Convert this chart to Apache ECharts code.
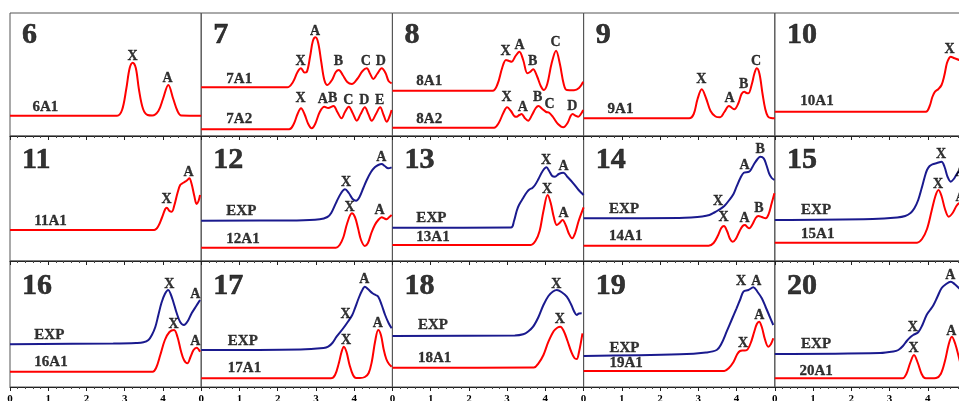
<!DOCTYPE html>
<html><head><meta charset="utf-8">
<script src="https://cdn.jsdelivr.net/npm/echarts@6/dist/echarts.min.js"></script>
<style>html,body{margin:0;padding:0;background:#fff}#c{width:959px;height:401px}</style>
</head><body><div id="c"></div>
<script>
// ---------- panel numbers ----------
const panelNums = ['6','7','8','9','10','11','12','13','14','15','16','17','18','19','20'];
const xTicks = [0,1,2,3,4];

// ---------- curve data: [x, y] ----------
const p6_A1 = [[0,20.3],[2.8,20.3],[2.93,26],[3.04,47],[3.13,68],[3.21,73.3],[3.29,68],[3.37,47],[3.48,27],[3.6,21],[3.72,20.5],[3.88,25],[4.0,37],[4.14,51],[4.27,37],[4.38,25],[4.48,20.5],[5,20.3]];
const p7_A1 = [[0,48.7],[2.25,48.7],[2.4,54],[2.52,64],[2.61,67.7],[2.7,63.5],[2.76,64],[2.85,80],[2.92,95],[2.99,98.7],[3.06,93],[3.14,74],[3.22,56],[3.3,51],[3.42,56],[3.52,64],[3.6,66],[3.7,61],[3.82,54],[3.94,52],[4.08,57],[4.22,65],[4.33,67.7],[4.42,62],[4.5,57],[4.6,62],[4.72,67.7],[4.82,63],[4.9,55],[4.98,52.7]];
const p7_A2 = [[0,6.7],[2.3,6.7],[2.42,12],[2.52,22],[2.61,27.7],[2.7,22],[2.8,12],[2.89,7.7],[2.98,12],[3.1,24],[3.22,29.3],[3.32,28],[3.46,30],[3.56,24],[3.67,17.7],[3.76,24],[3.86,29.3],[3.96,23],[4.07,15.3],[4.17,22],[4.28,28.7],[4.37,22],[4.46,15.3],[4.57,22],[4.68,28.7],[4.77,21],[4.85,14.3],[4.92,19],[4.98,26]];
const p8_A1 = [[0,45.3],[2.62,45.3],[2.75,52],[2.87,68],[2.97,76],[3.05,75],[3.12,74.3],[3.22,80],[3.32,84.3],[3.42,76],[3.53,62.7],[3.6,64],[3.68,66.7],[3.78,60],[3.88,50],[3.96,46],[4.05,52],[4.16,72],[4.28,85.3],[4.38,72],[4.48,52],[4.56,46],[4.75,45.8],[4.88,48],[4.99,54.3]];
const p8_A2 = [[0,8.3],[2.66,8.3],[2.78,13],[2.9,23],[3.0,28.7],[3.1,25],[3.2,19.5],[3.25,19.3],[3.32,21],[3.38,22],[3.46,18],[3.55,15.3],[3.65,21],[3.75,28],[3.82,30],[3.92,27],[4.02,24],[4.10,23.3],[4.2,19],[4.33,12],[4.47,8.7],[4.58,13],[4.66,20],[4.71,22],[4.78,20.5],[4.86,19.3],[4.93,22],[4.99,26]];
const p9_A1 = [[0,17.7],[2.76,17.7],[2.88,22],[2.98,37],[3.09,46.7],[3.2,38],[3.32,25],[3.45,19.5],[3.57,18.7],[3.68,24],[3.8,30],[3.88,28],[3.94,26.7],[4.05,33],[4.13,42],[4.2,44.3],[4.26,43],[4.31,42.7],[4.4,52],[4.47,63],[4.53,67.7],[4.6,62],[4.68,42],[4.75,27],[4.82,19.5],[4.9,17.9],[5,17.7]];
const p10_A1 = [[0,24.3],[3.95,24.3],[4.05,30],[4.12,39],[4.19,44.3],[4.28,47],[4.36,51],[4.43,60],[4.5,72.7],[4.56,78],[4.6,79.3],[4.68,78],[4.82,76],[5,72]];
const p11_A1 = [[0,31],[3.77,31],[3.88,35],[3.97,43],[4.06,52],[4.1,53.3],[4.17,50],[4.23,49.3],[4.3,56],[4.38,68],[4.45,76],[4.52,78],[4.58,79.3],[4.64,81],[4.69,82.7],[4.75,77],[4.82,65],[4.88,57],[4.93,60],[4.97,66]];
const p12_EXP = [[0,40.3],[2.5,40.6],[3.1,41.7],[3.3,44],[3.4,48],[3.54,59.3],[3.66,68],[3.76,71.7],[3.86,68],[3.96,62],[4.05,60.3],[4.14,64],[4.24,73],[4.33,81],[4.44,89],[4.54,93.7],[4.63,96],[4.72,97],[4.8,95],[4.89,92.7],[4.98,93.7]];
const p12_A1 = [[0,13.3],[3.52,13.3],[3.62,16],[3.72,24],[3.82,38],[3.94,47.7],[4.02,44],[4.1,33],[4.18,21],[4.28,15],[4.36,18],[4.45,28],[4.54,36],[4.63,41],[4.72,43.7],[4.79,42.5],[4.85,41.7],[4.92,44],[4.98,46]];
const p13_EXP = [[0,33.3],[3.1,33.5],[3.18,40],[3.25,50],[3.31,56],[3.42,63],[3.52,69],[3.59,71.7],[3.66,73],[3.73,76],[3.82,82],[3.93,90],[4.03,93.7],[4.1,90],[4.18,85],[4.25,84.3],[4.35,87],[4.47,88.3],[4.58,84],[4.73,77.7],[4.87,71],[5.0,66]];
const p13_A1 = [[0,16],[3.62,16],[3.74,20],[3.85,30],[3.95,50],[4.06,66],[4.14,58],[4.22,44],[4.3,36],[4.37,38],[4.45,41],[4.53,36],[4.62,27],[4.7,22.7],[4.78,28],[4.87,40],[5.0,53.7]];
const p14_EXP = [[0,42.7],[2.5,43],[2.81,43.5],[3.1,44.5],[3.29,46],[3.42,48.5],[3.53,51],[3.68,55],[3.81,61],[3.92,67],[4.0,74.3],[4.1,83],[4.19,88.3],[4.33,89.3],[4.4,93],[4.47,97.7],[4.55,102],[4.62,104.3],[4.71,102.7],[4.78,96],[4.85,87.7],[4.92,83],[4.99,81]];
const p14_A1 = [[0,15.3],[3.27,15.3],[3.4,18],[3.52,26],[3.6,33],[3.67,35],[3.75,30],[3.83,22],[3.9,19.3],[3.98,22],[4.08,30],[4.16,35],[4.22,36],[4.28,34],[4.33,32.7],[4.42,37],[4.5,43],[4.57,45],[4.66,44],[4.76,42.7],[4.84,47],[4.92,58],[4.99,67.7]];
const p15_EXP = [[0,41],[2.56,42],[3.2,43.5],[3.41,45],[3.55,48],[3.65,52.7],[3.75,61],[3.84,72.7],[3.92,84],[3.98,91],[4.05,95],[4.12,96.7],[4.24,98],[4.36,99.3],[4.44,94],[4.52,84],[4.6,79.3],[4.68,82],[4.76,87],[4.82,89.3],[4.9,88],[5,86]];
const p15_A1 = [[0,18.3],[3.72,18.3],[3.85,22],[3.98,32],[4.1,50],[4.2,65],[4.28,71],[4.36,65],[4.45,52],[4.55,44.3],[4.65,48],[4.75,55],[4.82,57.7],[4.9,58],[5,57]];
const p16_EXP = [[0,42.7],[2.7,43.5],[3.3,44],[3.49,44.7],[3.62,47],[3.71,52],[3.8,60],[3.88,72],[3.96,84],[4.05,93],[4.14,97],[4.2,93],[4.27,85.3],[4.35,75],[4.45,65],[4.55,62],[4.65,66],[4.75,73.7],[4.87,81],[4.97,87]];
const p16_A1 = [[0,15.3],[3.73,15.3],[3.82,19],[3.93,32],[4.05,47],[4.17,55],[4.29,57],[4.38,50],[4.47,36],[4.55,27],[4.64,23.7],[4.72,30],[4.8,37],[4.88,39.3],[4.97,35.3]];
const p17_EXP = [[0,37],[2.6,37.5],[3.2,39],[3.32,40.3],[3.43,44],[3.54,50.3],[3.7,58],[3.85,66],[3.95,72],[4.02,78.7],[4.12,89],[4.2,96],[4.28,100.3],[4.36,98],[4.48,93.7],[4.56,92],[4.63,90.3],[4.72,82],[4.81,72],[4.9,64],[4.98,58.7]];
const p17_A1 = [[0,8.7],[3.39,8.7],[3.5,12],[3.6,24],[3.67,35],[3.73,40.3],[3.8,35],[3.88,22],[3.97,12],[4.05,9],[4.15,9],[4.28,10],[4.38,14],[4.46,25],[4.55,46],[4.63,57],[4.7,52],[4.77,38],[4.84,28],[4.91,23],[4.98,20.3]];
const p18_EXP = [[0,51],[3.2,51.5],[3.42,52.7],[3.55,55.5],[3.68,60.3],[3.82,70],[3.95,82],[4.08,91],[4.2,95.5],[4.3,97],[4.42,95],[4.56,90.3],[4.68,82],[4.76,75],[4.82,72],[4.88,73.5],[4.95,73.7]];
const p18_A1 = [[0,19.3],[3.7,19.5],[3.82,23.7],[3.95,32],[4.08,45.3],[4.22,56],[4.32,59.5],[4.39,60.3],[4.48,56],[4.58,46],[4.68,35],[4.76,29],[4.82,28],[4.88,35],[4.97,53.7]];
const p19_EXP = [[0,31],[2.52,32.7],[3.2,34.5],[3.48,37],[3.6,43],[3.74,55.3],[3.87,67],[4.0,78.7],[4.1,88],[4.18,95.3],[4.31,97],[4.44,99.7],[4.55,95],[4.66,88.7],[4.76,80],[4.86,71],[4.96,62]];
const p19_A1 = [[0,16],[3.68,16],[3.8,19],[3.92,25],[4.02,33],[4.09,36],[4.18,36.5],[4.27,37],[4.37,44],[4.46,55],[4.53,63],[4.59,65.3],[4.66,60],[4.74,48],[4.83,40.3],[4.9,43],[4.96,48.7]];
const p20_EXP = [[0,33],[2.75,34],[3.1,35.5],[3.23,37],[3.35,41],[3.45,46],[3.55,50],[3.62,52],[3.75,54.7],[3.86,62],[3.97,72],[4.06,77],[4.15,82],[4.25,90],[4.36,98.7],[4.48,103],[4.6,105.3],[4.7,103],[4.82,98.7],[5,92]];
const p20_A1 = [[0,8.7],[3.34,8.7],[3.44,13],[3.54,24],[3.64,32],[3.74,24],[3.84,13],[3.92,9],[4.0,8.7],[4.1,8.7],[4.22,9],[4.34,13],[4.45,26],[4.55,43],[4.63,50.3],[4.72,43],[4.82,28.7],[4.92,14],[5,9]];

// ---------- peak labels: [x, y, text] ----------
const k6_A1 = [[3.22,79,'X'],[4.13,57,'A']];
const k7_A1 = [[2.61,74.3,'X'],[2.99,104.3,'A'],[3.60,73.7,'B'],[4.32,74,'C'],[4.71,74,'D']];
const k7_A2 = [[2.61,36.7,'X'],[3.19,36,'A'],[3.45,37,'B'],[3.86,35,'C'],[4.28,35,'D'],[4.68,35,'E']];
const k8_A1 = [[2.97,84.3,'X'],[3.34,90,'A'],[3.68,74.3,'B'],[4.28,92.7,'C']];
const k8_A2 = [[3.00,37.7,'X'],[3.42,27.7,'A'],[3.81,37.7,'B'],[4.12,31,'C'],[4.72,28.7,'D']];
const k9_A1 = [[3.09,56,'X'],[3.83,37,'A'],[4.20,51,'B'],[4.52,74.3,'C']];
const k10_A1 = [[4.58,86,'X']];
const k11_A1 = [[4.11,61,'X'],[4.68,88.3,'A']];
const k12_EXP = [[3.80,78.3,'X'],[4.72,102.7,'A']];
const k12_A1 = [[3.89,52.7,'X'],[4.68,50.3,'A']];
const k13_EXP = [[4.03,100.3,'X'],[4.49,93.7,'A']];
const k13_A1 = [[4.06,71,'X'],[4.49,47,'A']];
const k14_EXP = [[3.53,59.3,'X'],[4.22,95,'A'],[4.63,111,'B']];
const k14_A1 = [[3.67,42.7,'X'],[4.22,41.7,'A'],[4.60,51.7,'B']];
const k15_EXP = [[4.36,106,'X'],[4.87,87.7,'A']];
const k15_A1 = [[4.28,76,'X'],[4.87,63,'A']];
const k16_EXP = [[4.18,102,'X'],[4.86,92,'A']];
const k16_A1 = [[4.29,62,'X'],[4.86,44.7,'A']];
const k17_EXP = [[3.79,72,'X'],[4.28,107,'A']];
const k17_A1 = [[3.80,46,'X'],[4.63,62.7,'A']];
const k18_EXP = [[4.30,102,'X']];
const k18_A1 = [[4.39,67,'X']];
const k19_EXP = [[4.13,104.7,'X'],[4.53,104.7,'A']];
const k19_A1 = [[4.18,42.7,'X'],[4.61,71,'A']];
const k20_EXP = [[3.62,58.7,'X'],[4.60,111.3,'A']];
const k20_A1 = [[3.64,38,'X'],[4.63,55.3,'A']];

// ---------- layout (pixels / styles) ----------
const ROW_TOP = [13, 136, 261];
const ROW_H = [123, 125, 126];
const COL_LEFT = 10, COL_W = 191.2;
const RED = '#ff0000', BLUE = '#1a1a8e';
const NUM_POS = [0.33, 100];

const panels = [
  [{t:'6A1', at:[0.60,28], c:RED, d:p6_A1, k:k6_A1}],
  [{t:'7A1', at:[0.67,56], c:RED, d:p7_A1, k:k7_A1},{t:'7A2', at:[0.67,16], c:RED, d:p7_A2, k:k7_A2}],
  [{t:'8A1', at:[0.64,54.3], c:RED, d:p8_A1, k:k8_A1},{t:'8A2', at:[0.64,16.7], c:RED, d:p8_A2, k:k8_A2}],
  [{t:'9A1', at:[0.64,26], c:RED, d:p9_A1, k:k9_A1}],
  [{t:'10A1', at:[0.68,34.3], c:RED, d:p10_A1, k:k10_A1}],
  [{t:'11A1', at:[0.65,39.3], c:RED, d:p11_A1, k:k11_A1}],
  [{t:'EXP', at:[0.67,49.3], c:BLUE, d:p12_EXP, k:k12_EXP},{t:'12A1', at:[0.67,21], c:RED, d:p12_A1, k:k12_A1}],
  [{t:'EXP', at:[0.64,42.7], c:BLUE, d:p13_EXP, k:k13_EXP},{t:'13A1', at:[0.64,23.7], c:RED, d:p13_A1, k:k13_A1}],
  [{t:'EXP', at:[0.68,51.7], c:BLUE, d:p14_EXP, k:k14_EXP},{t:'14A1', at:[0.68,24.3], c:RED, d:p14_A1, k:k14_A1}],
  [{t:'EXP', at:[0.70,50], c:BLUE, d:p15_EXP, k:k15_EXP},{t:'15A1', at:[0.70,26], c:RED, d:p15_A1, k:k15_A1}],
  [{t:'EXP', at:[0.65,51], c:BLUE, d:p16_EXP, k:k16_EXP},{t:'16A1', at:[0.65,24.7], c:RED, d:p16_A1, k:k16_A1}],
  [{t:'EXP', at:[0.71,45.3], c:BLUE, d:p17_EXP, k:k17_EXP},{t:'17A1', at:[0.71,18.7], c:RED, d:p17_A1, k:k17_A1}],
  [{t:'EXP', at:[0.68,61.3], c:BLUE, d:p18_EXP, k:k18_EXP},{t:'18A1', at:[0.68,28], c:RED, d:p18_A1, k:k18_A1}],
  [{t:'EXP', at:[0.69,38], c:BLUE, d:p19_EXP, k:k19_EXP},{t:'19A1', at:[0.69,23.7], c:RED, d:p19_A1, k:k19_A1}],
  [{t:'EXP', at:[0.70,42], c:BLUE, d:p20_EXP, k:k20_EXP},{t:'20A1', at:[0.66,15.3], c:RED, d:p20_A1, k:k20_A1}]
];

const FONT = 'Liberation Serif';
const grids = [], xAxes = [], yAxes = [], series = [];

function textSeries(i, items, size, align, stroke) {
  return {
    type: 'scatter', xAxisIndex: i, yAxisIndex: i, silent: true, clip: false,
    symbolSize: 1, itemStyle: {color: 'rgba(0,0,0,0)'},
    data: items.map(it => ({value: [it[0], it[1]], name: it[2]})),
    label: {show: true, position: [0, 0], formatter: '{b}', align: align, verticalAlign: 'middle',
            fontFamily: FONT, fontWeight: 'bold', fontSize: size, color: '#000',
            textBorderColor: '#000', textBorderWidth: stroke},
    z: 5
  };
}

panels.forEach((curves, i) => {
  const r = Math.floor(i / 5), c = i % 5;
  grids.push({left: COL_LEFT + c * COL_W, width: COL_W, top: ROW_TOP[r], height: ROW_H[r],
              outerBoundsMode: 'none', containLabel: false,
              show: true, borderColor: '#555', borderWidth: 1, backgroundColor: 'transparent'});
  xAxes.push({gridIndex: i, type: 'value', min: 0, max: 5, interval: 1,
    axisLine: {show: true, onZero: false, lineStyle: {color: '#222', width: 1}},
    axisTick: {show: true, length: 4, lineStyle: {color: '#222'}},
    minorTick: {show: true, splitNumber: 5, length: 2, lineStyle: {color: '#444'}},
    axisLabel: {show: r === 2, showMaxLabel: false, fontFamily: FONT, fontWeight: 'bold', fontSize: 11, color: '#000', margin: 7,
      formatter: v => xTicks.includes(v) ? String(v) : ''},
    splitLine: {show: false}});
  yAxes.push({gridIndex: i, type: 'value', min: 0, max: ROW_H[r], show: false});
  curves.forEach(cv => {
    series.push({type: 'line', xAxisIndex: i, yAxisIndex: i, data: cv.d, symbol: 'none', smooth: 0.35,
      silent: true, lineStyle: {color: cv.c, width: 2}, z: 3});
    series.push(textSeries(i, cv.k, 14, 'center', 0.3));
    series.push(textSeries(i, [[cv.at[0], cv.at[1], cv.t]], 15, 'left', 0.3));
  });
  series.push(textSeries(i, [[NUM_POS[0], NUM_POS[1], panelNums[i]]], 30, 'left', 0.6));
});

const chart = echarts.init(document.getElementById('c'), null, {renderer: 'canvas'});
chart.setOption({animation: false, backgroundColor: '#fff', grid: grids, xAxis: xAxes, yAxis: yAxes, series: series});
</script>
</body></html>
